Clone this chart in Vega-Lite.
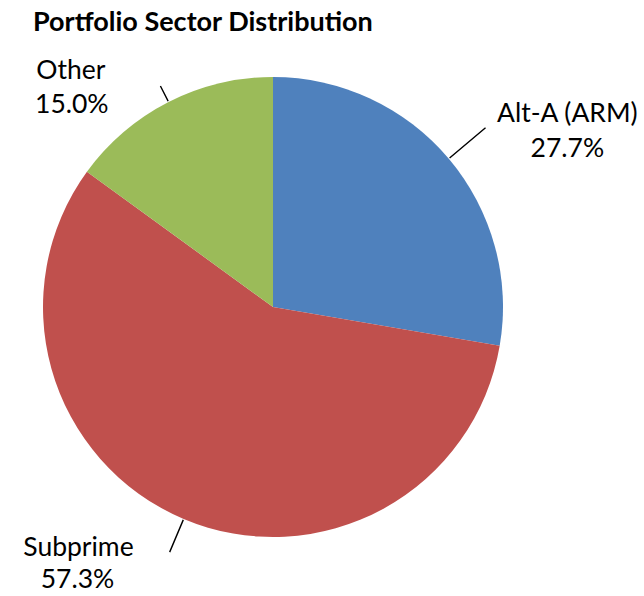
{
  "$schema": "https://vega.github.io/schema/vega-lite/v6.json",
  "autosize": {"type": "none"},
  "width": 546,
  "height": 534,
  "padding": {"left": 0, "top": 40, "right": 98, "bottom": 22},
  "background": "white",
  "config": {"view": {"stroke": null}},
  "title": {
    "text": "Portfolio Sector Distribution",
    "anchor": "start",
    "frame": "group",
    "dx": 33,
    "offset": 3,
    "font": "Lato",
    "fontSize": 27,
    "fontWeight": "bold",
    "color": "black"
  },
  "data": {
    "values": [
      {"sector": "Alt-A (ARM)", "share": 0.277, "order": 1},
      {"sector": "Subprime", "share": 0.573, "order": 2},
      {"sector": "Other", "share": 0.150, "order": 3}
    ]
  },
  "transform": [
    {"stack": "share", "groupby": [], "sort": [{"field": "order", "order": "ascending"}], "as": ["s0", "s1"]},
    {"fold": ["s0", "s1"], "as": ["k", "v"]},
    {"aggregate": [{"op": "mean", "field": "v", "as": "mid"}], "groupby": ["sector", "order", "share", "s0", "s1"]}
  ],
  "encoding": {
    "theta": {"field": "mid", "type": "quantitative", "stack": null, "scale": {"domain": [0, 1]}}
  },
  "layer": [
    {
      "mark": {"type": "arc", "outerRadius": 230, "stroke": null},
      "encoding": {
        "theta": {"field": "s0", "type": "quantitative", "stack": null, "scale": {"domain": [0, 1]}},
        "theta2": {"field": "s1"},
        "color": {
          "field": "sector",
          "type": "nominal",
          "scale": {"domain": ["Alt-A (ARM)", "Subprime", "Other"], "range": ["#4F81BD", "#C0504D", "#9BBB59"]},
          "legend": null
        }
      }
    },
    {
      "transform": [{"filter": "datum.sector === 'Alt-A (ARM)'"}],
      "mark": {"type": "arc", "innerRadius": 231, "outerRadius": 278, "filled": false, "stroke": "black", "strokeWidth": 1.4},
      "encoding": {"theta2": {"field": "mid"}}
    },
    {
      "transform": [{"filter": "datum.sector === 'Subprime'"}],
      "mark": {"type": "arc", "innerRadius": 231, "outerRadius": 266, "filled": false, "stroke": "black", "strokeWidth": 1.4},
      "encoding": {"theta2": {"field": "mid"}}
    },
    {
      "transform": [{"filter": "datum.sector === 'Other'"}],
      "mark": {"type": "arc", "innerRadius": 231, "outerRadius": 248, "filled": false, "stroke": "black", "strokeWidth": 1.4},
      "encoding": {"theta2": {"field": "mid"}}
    },
    {
      "transform": [{"filter": "datum.sector === 'Alt-A (ARM)'"}],
      "mark": {"type": "text", "radius": 300, "dx": 65, "dy": 0, "font": "Lato", "fontSize": 26.5, "align": "center", "baseline": "middle", "color": "black"},
      "encoding": {"text": {"field": "sector"}}
    },
    {
      "transform": [{"filter": "datum.sector === 'Alt-A (ARM)'"}],
      "mark": {"type": "text", "radius": 300, "dx": 65, "dy": 35, "font": "Lato", "fontSize": 26.5, "align": "center", "baseline": "middle", "color": "black"},
      "encoding": {"text": {"field": "share", "type": "quantitative", "format": ".1%"}}
    },
    {
      "transform": [{"filter": "datum.sector === 'Subprime'"}],
      "mark": {"type": "text", "radius": 300, "dx": -78, "dy": -35, "font": "Lato", "fontSize": 26.5, "align": "center", "baseline": "middle", "color": "black"},
      "encoding": {"text": {"field": "sector"}}
    },
    {
      "transform": [{"filter": "datum.sector === 'Subprime'"}],
      "mark": {"type": "text", "radius": 300, "dx": -79, "dy": -3, "font": "Lato", "fontSize": 26.5, "align": "center", "baseline": "middle", "color": "black"},
      "encoding": {"text": {"field": "share", "type": "quantitative", "format": ".1%"}}
    },
    {
      "transform": [{"filter": "datum.sector === 'Other'"}],
      "mark": {"type": "text", "radius": 300, "dx": -66, "dy": 31, "font": "Lato", "fontSize": 26.5, "align": "center", "baseline": "middle", "color": "black"},
      "encoding": {"text": {"field": "sector"}}
    },
    {
      "transform": [{"filter": "datum.sector === 'Other'"}],
      "mark": {"type": "text", "radius": 300, "dx": -65, "dy": 65, "font": "Lato", "fontSize": 26.5, "align": "center", "baseline": "middle", "color": "black"},
      "encoding": {"text": {"field": "share", "type": "quantitative", "format": ".1%"}}
    }
  ]
}
